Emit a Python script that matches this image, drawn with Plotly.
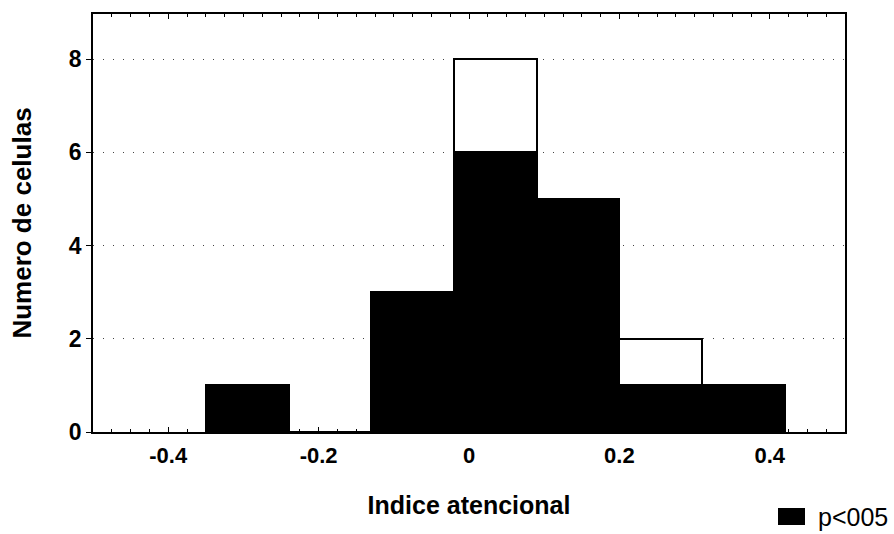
import plotly.graph_objects as go

bin_centers = [-0.295, -0.185, -0.075, 0.035, 0.145, 0.255, 0.365]
bin_width = 0.11
total_counts = [1, 0, 3, 8, 5, 2, 1]
sig_counts = [1, 0, 3, 6, 5, 1, 1]
y_ticks = [0, 2, 4, 6, 8]
x_ticks = [-0.4, -0.2, 0, 0.2, 0.4]
x_tick_labels = ["-0.4", "-0.2", "0", "0.2", "0.4"]
legend_label = "p<005"

FONT = "Liberation Sans, Arial, sans-serif"

fig = go.Figure()
fig.add_trace(go.Bar(
    x=bin_centers, y=total_counts, width=[bin_width] * len(bin_centers),
    marker=dict(color="white", line=dict(color="black", width=2)),
    showlegend=False, name="total",
))
fig.add_trace(go.Bar(
    x=bin_centers, y=sig_counts, width=[bin_width] * len(bin_centers),
    marker=dict(color="black", line=dict(color="black", width=1)),
    name=legend_label, showlegend=False,
))

# legend drawn as a filled square plus its label
fig.add_shape(type="rect", xref="paper", yref="paper",
              x0=(778 - 93) / 752, x1=(805 - 93) / 752,
              y0=(432 - 525) / 418, y1=(432 - 508) / 418,
              fillcolor="black", line=dict(color="black", width=0))
fig.add_annotation(text=legend_label, xref="paper", yref="paper",
                   x=(816 - 93) / 752, y=(432 - 517) / 418,
                   xanchor="left", yanchor="middle", showarrow=False,
                   font=dict(size=25, color="black", family=FONT))

fig.update_layout(
    width=894, height=534,
    margin=dict(l=93, r=49, t=14, b=102, autoexpand=False),
    barmode="overlay",
    bargap=0,
    plot_bgcolor="white",
    paper_bgcolor="white",
    font=dict(family=FONT, size=22, color="black"),
    showlegend=False,
    xaxis=dict(
        range=[-0.5, 0.5],
        tickvals=x_ticks, ticktext=[f"<b>{t}</b>" for t in x_tick_labels],
        ticks="inside", ticklen=5, tickwidth=1, tickcolor="black",
        minor=dict(ticks="inside", ticklen=3, dtick=0.025, tickcolor="black"),
        ticklabelstandoff=3,
        showline=True, linecolor="black", linewidth=1.5, mirror="ticks",
        showgrid=False, zeroline=False,
        title=dict(text="<b>Indice atencional</b>", font=dict(size=25), standoff=29),
        tickfont=dict(size=22),
        automargin=False,
    ),
    yaxis=dict(
        range=[0, 8.97],
        tickvals=y_ticks, ticktext=[f"<b>{t}</b>" for t in y_ticks],
        ticks="outside", ticklen=5, tickwidth=1, tickcolor="black",
        showline=True, linecolor="black", linewidth=1.5, mirror=True,
        showgrid=True, gridcolor="#444", griddash="1px,9px", gridwidth=1,
        zeroline=False,
        title=dict(text="<b>Numero de celulas</b>", font=dict(size=26), standoff=30),
        tickfont=dict(size=23),
        automargin=False,
    ),
)

fig.write_html("out.html", config={"displayModeBar": False})

# remove the default page margin so the figure sits at the window's corner
with open("out.html", "r", encoding="utf-8") as f:
    html = f.read()
html = html.replace("<head>", "<head><style>html,body{margin:0;padding:0;}</style>", 1)
with open("out.html", "w", encoding="utf-8") as f:
    f.write(html)
